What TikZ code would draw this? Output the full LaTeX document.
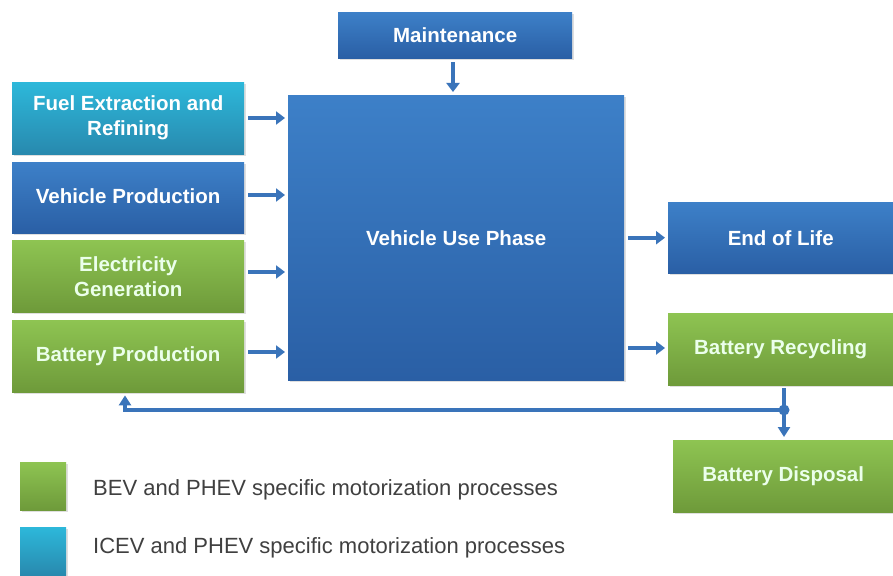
\documentclass[tikz,border=0pt]{standalone}
\usepackage{fontspec}
\setmainfont{Liberation Sans}
\usetikzlibrary{arrows.meta,shadows,calc}
\definecolor{bluetop}{HTML}{3D80C8}
\definecolor{bluebot}{HTML}{2A5FA5}
\definecolor{greentop}{HTML}{8EC452}
\definecolor{greenbot}{HTML}{6E9A3A}
\definecolor{tealtop}{HTML}{2DB8DA}
\definecolor{tealbot}{HTML}{2889AE}
\definecolor{arrowblue}{HTML}{3A74BA}
\definecolor{legtext}{HTML}{404040}
\tikzset{
  box/.style={anchor=north west, inner sep=0pt, align=center, text=white,
    font=\fontsize{20.5}{25}\selectfont\bfseries,
    drop shadow={shadow xshift=1.5pt, shadow yshift=-2pt, opacity=0.25}},
  bluebox/.style={box, top color=bluetop, bottom color=bluebot},
  greenbox/.style={box, top color=greentop, bottom color=greenbot, text=white!92!green},
  tealbox/.style={box, top color=tealtop, bottom color=tealbot},
  arr/.style={draw=arrowblue, line width=4pt, -{Triangle[length=9pt,width=13pt]}},
  fb/.style={draw=arrowblue, line width=3.2pt},
  legtxt/.style={anchor=west, inner sep=0pt, text=legtext, font=\fontsize{22}{25}\selectfont}
}
\begin{document}
\begin{tikzpicture}[x=1pt,y=-1pt]
\useasboundingbox[fill=white] (0,0) rectangle (893,575);
% boxes
\node[bluebox, minimum width=234pt, minimum height=46pt] (maint) at (338,12) {Maintenance};
\node[bluebox, minimum width=336pt, minimum height=285pt] (main) at (288,95) {Vehicle Use Phase};
\node[tealbox, minimum width=232pt, minimum height=72pt] (fuel) at (12,82) {Fuel Extraction and\\Refining};
\node[bluebox, minimum width=232pt, minimum height=71pt] (vprod) at (12,162) {\raisebox{4pt}{Vehicle Production}};
\node[greenbox, minimum width=232pt, minimum height=72pt] (elec) at (12,240) {Electricity\\Generation};
\node[greenbox, minimum width=232pt, minimum height=72pt] (bprod) at (12,320) {\raisebox{4pt}{Battery Production}};
\node[bluebox, minimum width=225pt, minimum height=71pt] (eol) at (668,202) {End of Life};
\node[greenbox, minimum width=225pt, minimum height=72pt] (recyc) at (668,313) {\raisebox{2pt}{Battery Recycling}};
\node[greenbox, minimum width=220pt, minimum height=72pt] (disp) at (673,440) {\raisebox{3pt}{Battery Disposal}};
% legend
\node[greenbox, minimum width=46pt, minimum height=48pt] (lg) at (20,462) {};
\node[tealbox, minimum width=46pt, minimum height=48pt] (lt) at (20,527) {};
\node[legtxt] (lgt) at (93,490) {BEV and PHEV specific motorization processes};
\node[legtxt] (ltt) at (93,548) {ICEV and PHEV specific motorization processes};
% arrows
\draw[arr, shorten <=4pt, shorten >=3pt] (fuel.east |- 0,118) -- (main.west |- 0,118);
\draw[arr, shorten <=4pt, shorten >=3pt] (vprod.east |- 0,195) -- (main.west |- 0,195);
\draw[arr, shorten <=4pt, shorten >=3pt] (elec.east |- 0,272) -- (main.west |- 0,272);
\draw[arr, shorten <=4pt, shorten >=3pt] (bprod.east |- 0,352) -- (main.west |- 0,352);
\draw[arr, shorten <=4pt, shorten >=3pt] (maint.south -| 453,0) -- (main.north -| 453,0);
\draw[arr, shorten <=4pt, shorten >=3pt] (main.east |- eol.west) -- (eol.west);
\draw[arr, shorten <=4pt, shorten >=3pt] (main.east |- 0,348) -- (recyc.west |- 0,348);
% feedback
\coordinate (dot) at (784,410);
\draw[fb, shorten <=3pt] (recyc.south -| dot) -- (dot);
\draw[fb, -{Triangle[length=10pt,width=12pt]}, shorten >=3pt] (dot) -| (bprod.south -| 125,0);
\draw[fb, -{Triangle[length=10pt,width=12pt]}, shorten >=3pt] (dot) -- (disp.north -| dot);
\fill[arrowblue] (dot) circle (5.5pt);
\end{tikzpicture}
\end{document}
